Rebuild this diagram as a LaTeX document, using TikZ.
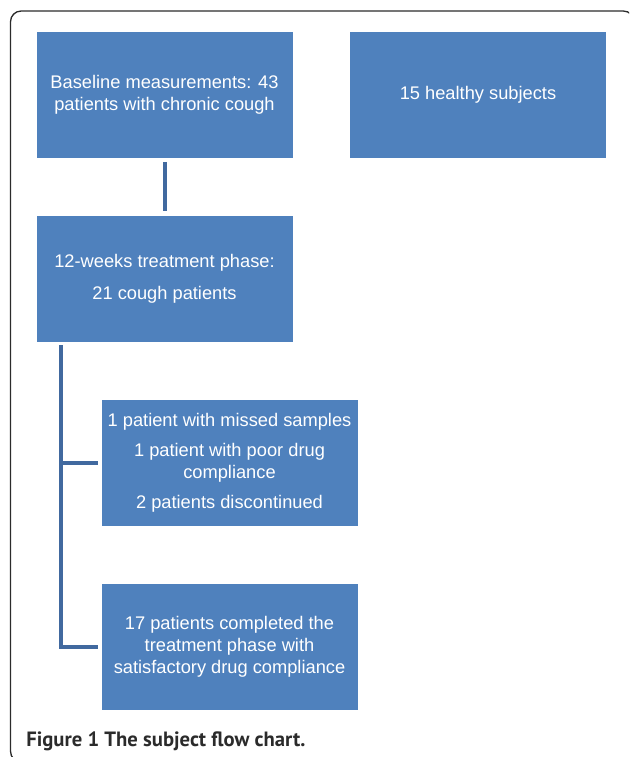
\documentclass[tikz,border=0pt]{standalone}
\usepackage{fontspec}
\setmainfont{Liberation Sans}
\newfontfamily\capfont{PT Sans}
\definecolor{boxblue}{HTML}{4F81BD}
\definecolor{lineblue}{HTML}{41699F}
\definecolor{framegray}{HTML}{2B2B2B}
\begin{document}
\begin{tikzpicture}[x=0.75pt,y=-0.75pt,
  flowbox/.style={rectangle, fill=boxblue, draw=boxblue, text=white,
    minimum width=191.25pt, minimum height=93.75pt, inner sep=0pt,
    align=center, font=\fontsize{13.7}{16.5}\selectfont},
  conn/.style={draw=lineblue, line width=3pt}]
\useasboundingbox (0,0) rectangle (629,757);
\begin{scope}
\clip (0,0) rectangle (629,757);
\draw[framegray, line width=1pt, rounded corners=8pt] (10.5,11) rectangle (634,762);
\end{scope}
\node[flowbox] (b1) at (164.5,94.5) {Baseline measurements: 43\\patients with chronic cough};
\node[flowbox] (b2) at (478,94.5) {15 healthy subjects};
\node[flowbox] (b3) at (164.5,278.5) {12-weeks treatment phase:\\[7.5pt]21 cough patients};
\node[flowbox] (b4) at (229.5,462.5) {1 patient with missed samples\\[6pt]1 patient with poor drug\\compliance\\[6pt]2 patients discontinued};
\node[flowbox] (b5) at (229.5,646.5) {17 patients completed the\\treatment phase with\\satisfactory drug compliance};
\draw[conn, shorten <=3.5pt, shorten >=3.5pt] (b1.south) -- (b3.north);
\coordinate (trunk) at ([xshift=18pt,yshift=-3pt]b3.south west);
\draw[conn] (trunk) |- ([xshift=-3pt]b5.west);
\draw[conn] (trunk |- b4.west) -- ([xshift=-3pt]b4.west);
\node[anchor=base west, inner sep=0pt, text=framegray, font=\capfont\bfseries\fontsize{15.5}{18}\selectfont] (cap) at (26,746) {Figure 1 The subject flow chart.};
\end{tikzpicture}
\end{document}
